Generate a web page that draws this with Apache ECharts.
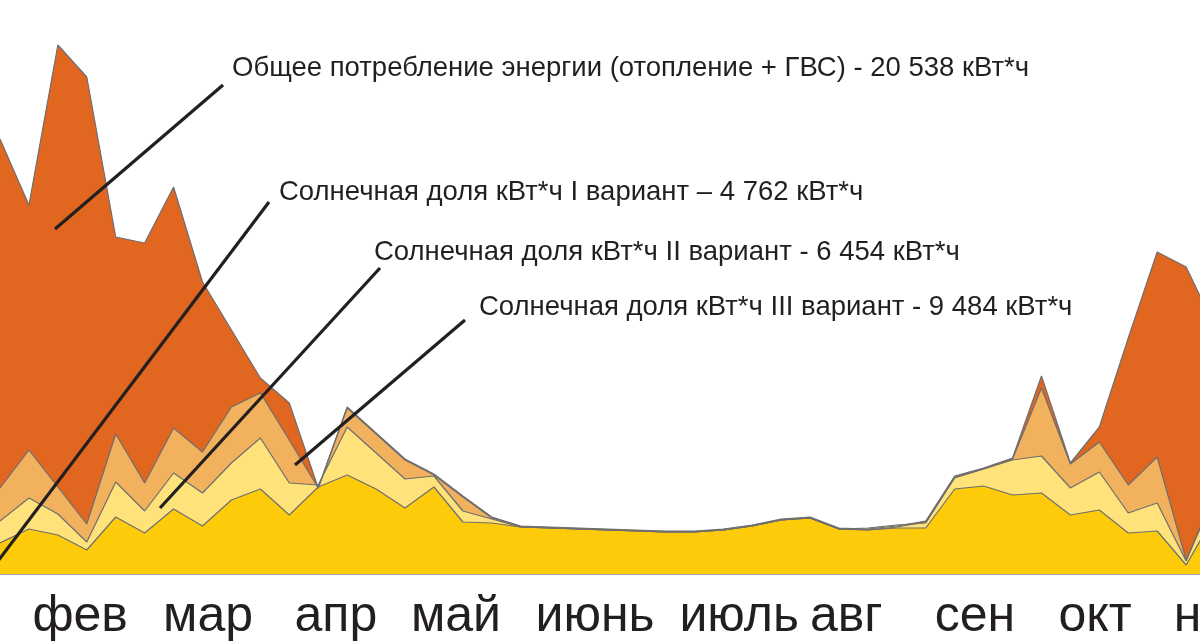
<!DOCTYPE html>
<html>
<head>
<meta charset="utf-8">
<script src="https://cdn.jsdelivr.net/npm/echarts@6/dist/echarts.min.js"></script>
<style>html,body{margin:0;padding:0;background:#fff}#c{width:1200px;height:644px}</style>
</head>
<body>
<div id="c"></div>
<script>
// weekly points (week index from the left edge of the picture)
var total =  [435,369,529,497,337,331,387,292,244,196,171,86,167,141,115,100,78,57,48,47,46,45,44,43,43,45,49,55,57,46,45,48,53,98,106,116,198,111,147,236,322,307,247];
var variant3 = [86,124,87,50,140,91,146,122,167,181,134,86,166,140,114,99,77,56,47,46,45,44,43,42,42,44,48,54,56,45,44,47,52,97,105,115,186,110,132,89,117,14,79];
var variant2 = [53,76,60,32,92,63,101,81,111,136,91,89,147,121,95,98,63,55,47,46,45,44,43,42,42,44,48,54,56,45,46,49,51,96,105,114,118,86,102,61,71,13,82];
var variant1 = [31,45,39,24,57,41,65,48,74,85,59,87,99,85,66,87,52,51,47,46,45,44,43,42,42,44,48,54,56,45,44,46,46,85,88,79,81,59,64,41,43,9,59];
var months = ['фев','мар','апр','май','июнь','июль','авг','сен','окт','ноя'];
var monthPos = [2.77, 7.19, 11.61, 15.76, 20.57, 25.55, 29.25, 33.7, 37.85, 42.0];
var labels = [
  'Общее потребление энергии (отопление + ГВС) - 20 538 кВт*ч',
  'Солнечная доля кВт*ч I вариант – 4 762 кВт*ч',
  'Солнечная доля кВт*ч II вариант - 6 454 кВт*ч',
  'Солнечная доля кВт*ч III вариант - 9 484 кВт*ч'
];

function pairs(a){ return a.map(function(v,i){ return [i, v]; }); }

var chart = echarts.init(document.getElementById('c'), null, {renderer:'canvas'});
var outline = {color:'#6d6e70', width:1.2};
function area(name, data, color){
  return {
    name:name, type:'line', data:pairs(data), symbol:'none', smooth:false,
    lineStyle:outline, areaStyle:{color:color, opacity:1}, clip:true, silent:true,
    emphasis:{disabled:true}
  };
}
var textStyle = {fontFamily:'Liberation Sans, Arial, sans-serif', fontSize:27.5, fill:'#231f20'};
function txt(s, x, y){
  return {type:'text', x:x, y:y, style:Object.assign({text:s, textVerticalAlign:'middle'}, textStyle), z:100};
}
function ln(x1,y1,x2,y2){
  return {type:'line', shape:{x1:x1,y1:y1,x2:x2,y2:y2}, style:{stroke:'#231f20', lineWidth:3.2}, z:100};
}

chart.setOption({
  animation:false,
  backgroundColor:'#ffffff',
  grid:{left:0, right:-60, top:0, bottom:70, containLabel:false, outerBoundsMode:'none'},
  xAxis:{
    type:'value', min:0, max:1260/28.93,
    axisLine:{show:true, lineStyle:{color:'#8a8a8a', width:1.5}},
    axisTick:{show:false},
    splitLine:{show:false},
    axisLabel:{
      customValues:monthPos,
      formatter:function(v){ var i = monthPos.indexOf(v); return i>=0 ? months[i] : ''; },
      fontFamily:'Liberation Sans, Arial, sans-serif',
      fontSize:50, color:'#231f20', margin:18
    }
  },
  yAxis:{type:'value', min:0, max:574, show:false},
  series:[
    area('Общее потребление', total, '#E1661F'),
    area('III вариант', variant3, '#F2B15C'),
    area('II вариант', variant2, '#FFE27A'),
    area('I вариант', variant1, '#FDCB0A')
  ],
  graphic:[
    ln(223,85,55,229),
    ln(269,202,-2,561),
    ln(380,268,160,508),
    ln(465,320,295,465),
    txt(labels[0], 232, 68),
    txt(labels[1], 279, 192),
    txt(labels[2], 374, 252),
    txt(labels[3], 479, 307)
  ]
});
</script>
</body>
</html>
